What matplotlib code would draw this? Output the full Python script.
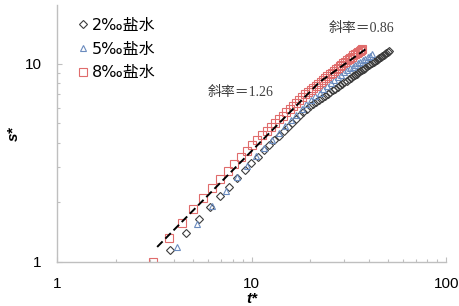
import matplotlib
matplotlib.use('Agg')
import matplotlib.pyplot as plt
from matplotlib.ticker import LogLocator, NullFormatter, FixedFormatter, FixedLocator

# dimensionless time / drawdown
t_2 = [3.81, 4.58, 5.35, 6.12, 6.89, 7.66, 8.43, 9.20, 9.97, 10.74, 11.51, 12.28, 13.05,
       13.82, 14.59, 15.36, 16.13, 16.90, 17.67, 18.44, 19.21, 19.98, 20.75, 21.52, 22.29,
       23.06, 23.83, 24.60, 25.37, 26.14, 26.91, 27.68, 28.45, 29.22, 29.99, 30.76, 31.53,
       32.30, 33.07, 33.84, 34.61, 35.38, 36.15, 36.92, 37.69, 38.46, 39.23, 40.00, 40.77,
       41.54, 42.31, 43.08, 43.85, 44.62, 45.39, 46.16, 46.93, 47.70, 48.47, 49.24, 50.01, 50.78]
s_2 = [1.15, 1.40, 1.65, 1.90, 2.15, 2.40, 2.65, 2.90, 3.15, 3.40, 3.65, 3.88, 4.11,
       4.34, 4.57, 4.80, 5.03, 5.26, 5.48, 5.71, 5.94, 6.11, 6.26, 6.42, 6.58,
       6.73, 6.89, 7.04, 7.19, 7.34, 7.49, 7.63, 7.78, 7.92, 8.06, 8.20, 8.34,
       8.48, 8.62, 8.75, 8.89, 9.03, 9.16, 9.29, 9.43, 9.56, 9.69, 9.82, 9.95,
       10.08, 10.21, 10.33, 10.46, 10.59, 10.71, 10.84, 10.96, 11.09, 11.21, 11.33, 11.46, 11.58]

t_5 = [4.14, 5.21, 6.28, 7.35, 8.42, 9.49, 10.56, 11.63, 12.70, 13.77, 14.84, 15.91,
       16.98, 18.05, 19.12, 20.19, 21.26, 22.33, 23.40, 24.47, 25.54, 26.61, 27.68, 28.75,
       29.82, 30.89, 31.96, 33.03, 34.10, 35.17, 36.24, 37.31, 38.38, 39.45, 40.52, 41.59]
s_5 = [1.19, 1.55, 1.91, 2.29, 2.67, 3.06, 3.41, 3.76, 4.12, 4.47, 4.83, 5.18,
       5.54, 5.90, 6.26, 6.56, 6.85, 7.14, 7.42, 7.71, 7.99, 8.27, 8.55, 8.82,
       9.07, 9.27, 9.47, 9.67, 9.86, 10.05, 10.24, 10.43, 10.61, 10.79, 10.97, 11.15]

t_8 = [3.12, 3.75, 4.38, 5.01, 5.64, 6.27, 6.90, 7.53, 8.16, 8.79, 9.42, 10.05, 10.68,
       11.31, 11.94, 12.57, 13.20, 13.83, 14.46, 15.09, 15.72, 16.35, 16.98, 17.61, 18.24,
       18.87, 19.50, 20.13, 20.76, 21.39, 22.02, 22.65, 23.28, 23.91, 24.54, 25.17, 25.80,
       26.43, 27.06, 27.69, 28.32, 28.95, 29.58, 30.21, 30.84, 31.47, 32.10, 32.73, 33.36,
       33.99, 34.62, 35.25, 35.88, 36.51, 37.14]
s_8 = [1.00, 1.32, 1.57, 1.84, 2.10, 2.35, 2.61, 2.86, 3.11, 3.37, 3.63, 3.89, 4.12,
       4.35, 4.57, 4.80, 5.02, 5.24, 5.46, 5.68, 5.90, 6.12, 6.34, 6.56, 6.78,
       7.00, 7.21, 7.40, 7.57, 7.76, 7.94, 8.12, 8.29, 8.47, 8.65, 8.83, 9.00,
       9.17, 9.35, 9.52, 9.70, 9.87, 10.04, 10.21, 10.38, 10.55, 10.72, 10.86, 11.00,
       11.13, 11.27, 11.40, 11.54, 11.67, 11.80]

# fitted slope lines
fit_t = [3.27, 22.4, 38.4]
fit_s = [1.19, 8.1, 11.8]

labels = ['2‰盐水', '5‰盐水', '8‰盐水']

fig = plt.figure(figsize=(4.6, 3.06), dpi=100)
ax = fig.add_axes([0.124, 0.144, 0.846, 0.840])

grey = '#BFBFBF'
ax.plot(t_2, s_2, linestyle='none', marker='D', markersize=3.6, mfc='none',
        mec='#3C3C3C', mew=0.8, label=labels[0])
ax.plot(t_5, s_5, linestyle='none', marker='^', markersize=5, mfc='none',
        mec='#6A8BBE', mew=0.8, label=labels[1])
ax.plot(t_8, s_8, linestyle='none', marker='s', markersize=5.2, mfc='none',
        mec='#E06C6C', mew=0.8, label=labels[2])
ax.plot(fit_t, fit_s, color='black', lw=1.4, dashes=[4, 2], zorder=5)

ax.set_xscale('log')
ax.set_yscale('log')
ax.set_xlim(1, 100)
ax.set_ylim(1, 19.8)

ax.xaxis.set_major_locator(FixedLocator([1, 10, 100]))
ax.xaxis.set_major_formatter(FixedFormatter(['1', '10', '100']))
ax.xaxis.set_minor_locator(LogLocator(base=10, subs=range(2, 10)))
ax.xaxis.set_minor_formatter(NullFormatter())
ax.yaxis.set_major_locator(FixedLocator([1, 10]))
ax.yaxis.set_major_formatter(FixedFormatter(['1', '10']))
ax.yaxis.set_minor_locator(LogLocator(base=10, subs=range(2, 10)))
ax.yaxis.set_minor_formatter(NullFormatter())

for side in ['top', 'right']:
    ax.spines[side].set_visible(False)
for side in ['left', 'bottom']:
    ax.spines[side].set_color(grey)
    ax.spines[side].set_linewidth(1.0)

ax.tick_params(which='major', direction='in', length=3.5, width=0.8, color=grey,
               labelsize=11, pad=11, labelfontfamily='Liberation Sans')
ax.tick_params(which='minor', direction='in', length=2.5, width=0.8, color=grey)

ax.set_xlabel('t*', fontsize=11, fontweight='bold', fontstyle='italic',
              family='Liberation Sans', labelpad=0.8)
ax.set_ylabel('s*', fontsize=11, fontweight='bold', fontstyle='italic',
              family='Liberation Sans', labelpad=3)

ax.text(5.98, 7.14, '斜率＝1.26', fontsize=10, color='#404040', va='center', ha='left',
        family=['Liberation Serif', 'Noto Sans CJK SC'])
ax.text(25.0, 15.0, '斜率＝0.86', fontsize=10, color='#404040', va='center', ha='left',
        family=['Liberation Serif', 'Noto Sans CJK SC'])

leg = ax.legend(loc='upper left', bbox_to_anchor=(0.035, 0.975), frameon=False,
                borderaxespad=0, handlelength=0.8, handletextpad=0.15, labelspacing=0.55,
                prop={'family': ['DejaVu Sans', 'Noto Sans CJK SC'], 'size': 11.5})

fig.savefig('out.png', dpi=100)
